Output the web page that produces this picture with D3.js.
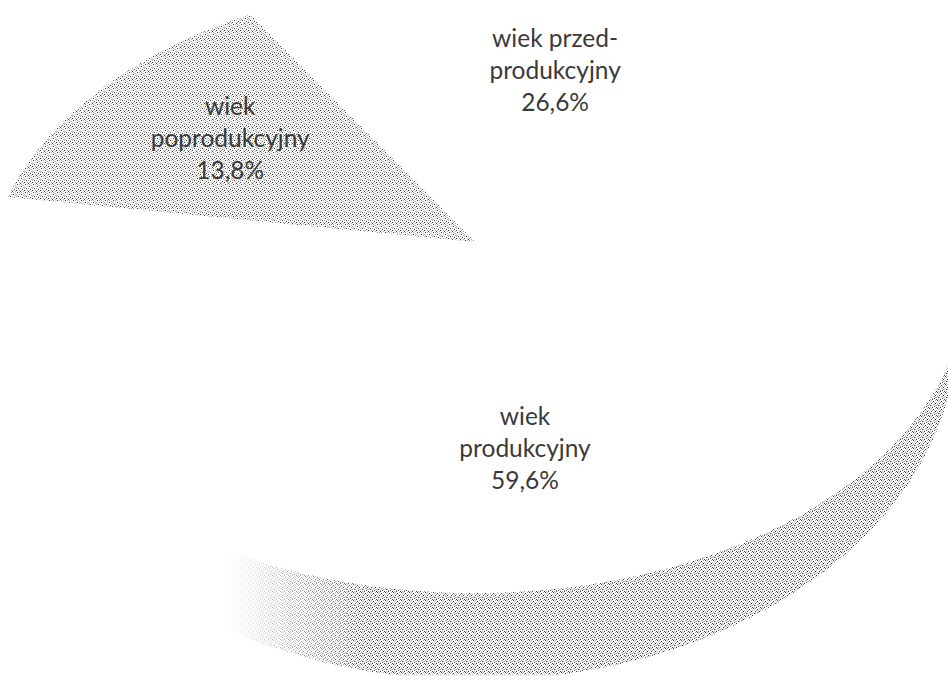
<!DOCTYPE html>
<html>
<head>
<meta charset="utf-8">
<script src="https://cdn.jsdelivr.net/npm/d3@7"></script>
<style>
  html, body { margin: 0; padding: 0; background: #fff; }
  svg { display: block; }
</style>
</head>
<body>
<svg id="chart" width="948" height="675"></svg>
<script>
// data
const categories = ['wiek przed-produkcyjny', 'wiek produkcyjny', 'wiek poprodukcyjny']
const values = [26.6, 59.6, 13.8]
const labelLines = [['wiek przed-', 'produkcyjny'], ['wiek', 'produkcyjny'], ['wiek', 'poprodukcyjny']]

const width = 948, height = 675
const deg = Math.PI / 180

// perspective of the 3d pie: top face and bottom face
const topFace = { x0: 475, y0: 242, sx: 483, sy: 299.7, a: 0.1438 }
const bottomFace = { x0: 476, y0: 279.6, sx: 476, sy: 342.8, a: 0.1438 }

function project(alpha, r, f) {
  const u = r * Math.sin(alpha), v = r * Math.cos(alpha)
  const w = 1 + f.a * v
  return [f.x0 + f.sx * u / w, f.y0 - f.sy * v / w]
}

const pie = d3.pie().sort(null).value(d => d)
  .startAngle(-31.5 * deg).endAngle(-31.5 * deg + 2 * Math.PI)
const arcs = pie(values)

const fill = d3.scaleOrdinal().domain(categories).range(['#fff', '#fff', 'url(#stipple)'])

const svg = d3.select('#chart')
const defs = svg.append('defs')

// dotted fill, like the printed screen
function stipple(id, dark, grey) {
  const p = defs.append('pattern').attr('id', id)
    .attr('patternUnits', 'userSpaceOnUse').attr('width', 8).attr('height', 8)
  p.append('rect').attr('width', 8).attr('height', 8).attr('fill', '#fff')
  const dots = dark.map(d => d.concat(['#3c3c3c'])).concat(grey.map(d => d.concat(['#ababab'])))
  p.selectAll('rect.dot').data(dots).enter().append('rect')
    .attr('class', 'dot')
    .attr('x', d => d[0]).attr('y', d => d[1])
    .attr('width', 1).attr('height', 1)
    .attr('fill', d => d[2])
    .attr('shape-rendering', 'crispEdges')
}
stipple('stipple',
  [[1, 0], [5, 2], [2, 4], [6, 5], [0, 6], [4, 7]],
  [[3, 0], [7, 1], [0, 2], [3, 2], [5, 0], [1, 3], [7, 3], [4, 4], [0, 4], [3, 6], [5, 6], [7, 7]])
stipple('stippleDark',
  [[1, 0], [5, 1], [3, 3], [7, 3], [2, 5], [6, 6], [0, 7], [4, 7]],
  [[3, 0], [7, 0], [0, 2], [2, 1], [4, 2], [6, 2], [1, 4], [5, 4], [0, 5], [3, 5], [7, 5], [2, 7], [4, 6], [6, 4]])

// light falls from the left, the wall fades there
const grad = defs.append('linearGradient').attr('id', 'fade')
  .attr('gradientUnits', 'userSpaceOnUse')
  .attr('x1', 228).attr('x2', 370).attr('y1', 0).attr('y2', 0)
grad.append('stop').attr('offset', 0).attr('stop-color', '#000')
grad.append('stop').attr('offset', 1).attr('stop-color', '#fff')
defs.append('mask').attr('id', 'fadeMask')
  .append('rect').attr('width', width).attr('height', height).attr('fill', 'url(#fade)')

const line = d3.line()

function sampleAngles(d) {
  const n = Math.max(2, Math.ceil((d.endAngle - d.startAngle) / (0.5 * deg)))
  const t = d3.scaleLinear().domain([0, n]).range([d.startAngle, d.endAngle])
  return d3.range(n + 1).map(t)
}

// side walls
const walls = svg.append('g').attr('mask', 'url(#fadeMask)')
walls.selectAll('path').data(arcs).enter().append('path')
  .attr('d', d => {
    const as = sampleAngles(d)
    const pts = as.map(a => project(a, 1, topFace))
      .concat(as.slice().reverse().map(a => project(a, 1, bottomFace)))
    return line(pts) + 'Z'
  })
  .attr('fill', 'url(#stippleDark)')

// top faces
const center = project(0, 0, topFace)
svg.append('g').selectAll('path').data(arcs).enter().append('path')
  .attr('d', d => line([center].concat(sampleAngles(d).map(a => project(a, 1, topFace)))) + 'Z')
  .attr('fill', (d, i) => fill(categories[i]))
  .attr('stroke', (d, i) => fill(categories[i]) === '#fff' ? '#fff' : 'none')
  .attr('stroke-width', 2)

// labels
const fmt = v => d3.format('.1f')(v).replace('.', ',') + '%'
const lineGap = 32
const labels = svg.append('g')
  .attr('font-family', 'Lato, sans-serif')
  .attr('font-size', 24.5)
  .attr('fill', '#3a3a3a')
  .attr('text-anchor', 'middle')
labels.selectAll('text').data(arcs).enter().append('text')
  .each(function(d, i) {
    const p = project((d.startAngle + d.endAngle) / 2, 0.64, topFace)
    const rows = labelLines[i].concat([fmt(values[i])])
    d3.select(this).selectAll('tspan').data(rows).enter().append('tspan')
      .attr('x', p[0])
      .attr('y', (r, j) => p[1] + (j - 1) * lineGap)
      .attr('dominant-baseline', 'middle')
      .text(r => r)
  })
</script>
</body>
</html>
